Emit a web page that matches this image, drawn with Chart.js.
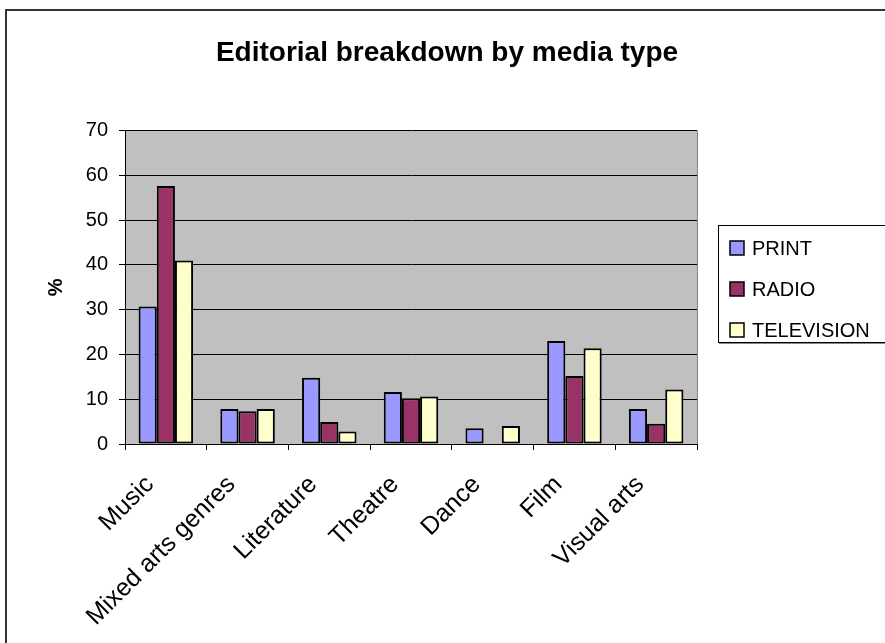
<!DOCTYPE html>
<html>
<head>
<meta charset="utf-8">
<script src="https://cdn.jsdelivr.net/npm/chart.js@4"></script>
<style>
  body { margin: 0; background: #fff; }
  #wrap { width: 885px; height: 643px; }
</style>
</head>
<body>
<div id="wrap"><canvas id="myChart" width="885" height="643"></canvas></div>
<script>
const categories = ["Music", "Mixed arts genres", "Literature", "Theatre", "Dance", "Film", "Visual arts"];
const printValues = [30.7, 7.8, 14.8, 11.6, 3.5, 23.0, 7.8];
const radioValues = [57.6, 7.3, 4.9, 10.2, 0, 15.2, 4.5];
const tvValues = [41.0, 7.8, 2.8, 10.6, 4.0, 21.4, 12.2];
const seriesNames = ["PRINT", "RADIO", "TELEVISION"];
const seriesColors = ["#9999FF", "#993366", "#FFFFCC"];

const FONT = "'Liberation Sans', Arial, sans-serif";

// grey plot area + outer frame lines
const background = {
  id: "background",
  beforeDraw(chart) {
    const { ctx, chartArea: a } = chart;
    ctx.save();
    ctx.fillStyle = "#C0C0C0";
    ctx.fillRect(a.left, a.top, a.right - a.left, a.bottom - a.top);
    ctx.strokeStyle = "#808080";
    ctx.lineWidth = 1;
    ctx.beginPath();
    ctx.moveTo(a.right + 0.5, a.top);
    ctx.lineTo(a.right + 0.5, a.bottom);
    ctx.stroke();
    // chart frame (only top and left are visible)
    ctx.strokeStyle = "#333";
    ctx.lineWidth = 2;
    ctx.beginPath();
    ctx.moveTo(6, chart.height);
    ctx.lineTo(6, 10);
    ctx.lineTo(chart.width, 10);
    ctx.stroke();
    ctx.restore();
  },
};

// legend box on the right
const sideLegend = {
  id: "sideLegend",
  afterDraw(chart) {
    const { ctx } = chart;
    const x = 718, y = 225, w = 172, h = 117;
    ctx.save();
    ctx.fillStyle = "#fff";
    ctx.fillRect(x, y, w, h);
    ctx.strokeStyle = "#888";
    ctx.lineWidth = 2;
    ctx.beginPath();
    ctx.moveTo(x + 1, y + h + 1);
    ctx.lineTo(chart.width, y + h + 1);
    ctx.stroke();
    ctx.strokeStyle = "#000";
    ctx.lineWidth = 1;
    ctx.strokeRect(x + 0.5, y + 0.5, w, h);
    ctx.font = "20px " + FONT;
    ctx.textBaseline = "middle";
    chart.data.datasets.forEach((ds, i) => {
      const cy = y + 23 + i * 41;
      ctx.fillStyle = ds.backgroundColor;
      ctx.fillRect(730, cy - 7, 14, 14);
      ctx.lineWidth = 1.5;
      ctx.strokeStyle = "#000";
      ctx.strokeRect(730, cy - 7, 14, 14);
      ctx.fillStyle = "#000";
      ctx.fillText(ds.label, 752, cy + 1);
    });
    ctx.restore();
  },
};

const valueSets = [printValues, radioValues, tvValues];
const datasets = seriesNames.map((name, i) => ({
  label: name,
  data: valueSets[i],
  backgroundColor: seriesColors[i],
  borderColor: "#000",
  borderWidth: 2,
  borderSkipped: false,
  barPercentage: 1,
  categoryPercentage: 0.667,
}));

new Chart(document.getElementById("myChart"), {
  type: "bar",
  data: { labels: categories, datasets: datasets },
  options: {
    responsive: false,
    animation: false,
    layout: { padding: { left: 9, right: 0, top: 0, bottom: 0 } },
    plugins: {
      legend: { display: false },
      tooltip: { enabled: false },
      title: {
        display: true,
        text: "Editorial breakdown by media type",
        color: "#000",
        font: { family: FONT, size: 28, weight: "bold" },
        padding: { top: 36, bottom: 61 },
      },
    },
    scales: {
      x: {
        afterFit: (scale) => { scale.height = 199; },
        grid: {
          offset: true,
          drawOnChartArea: false,
          color: "#000",
          tickLength: 6,
        },
        border: { color: "#000", width: 1 },
        ticks: {
          color: "#000",
          font: { family: FONT, size: 25 },
          minRotation: 45,
          maxRotation: 45,
          autoSkip: false,
          padding: 20,
          labelOffset: -16,
        },
      },
      y: {
        min: 0,
        max: 70,
        afterFit: (scale) => { scale.width = 116; },
        grid: { color: "#000", tickLength: 6 },
        border: { color: "#000", width: 1 },
        ticks: {
          stepSize: 10,
          color: "#000",
          font: { family: FONT, size: 20 },
          padding: 11,
        },
        title: {
          display: true,
          text: "%",
          color: "#000",
          font: { family: FONT, size: 20, weight: "bold" },
          padding: { top: 35 },
        },
      },
      // empty axis that keeps room for the legend box
      spacer: {
        position: "right",
        afterFit: (scale) => { scale.width = 188; },
        grid: { display: false },
        border: { display: false },
        ticks: { display: false },
      },
    },
  },
  plugins: [background, sideLegend],
});
</script>
</body>
</html>
